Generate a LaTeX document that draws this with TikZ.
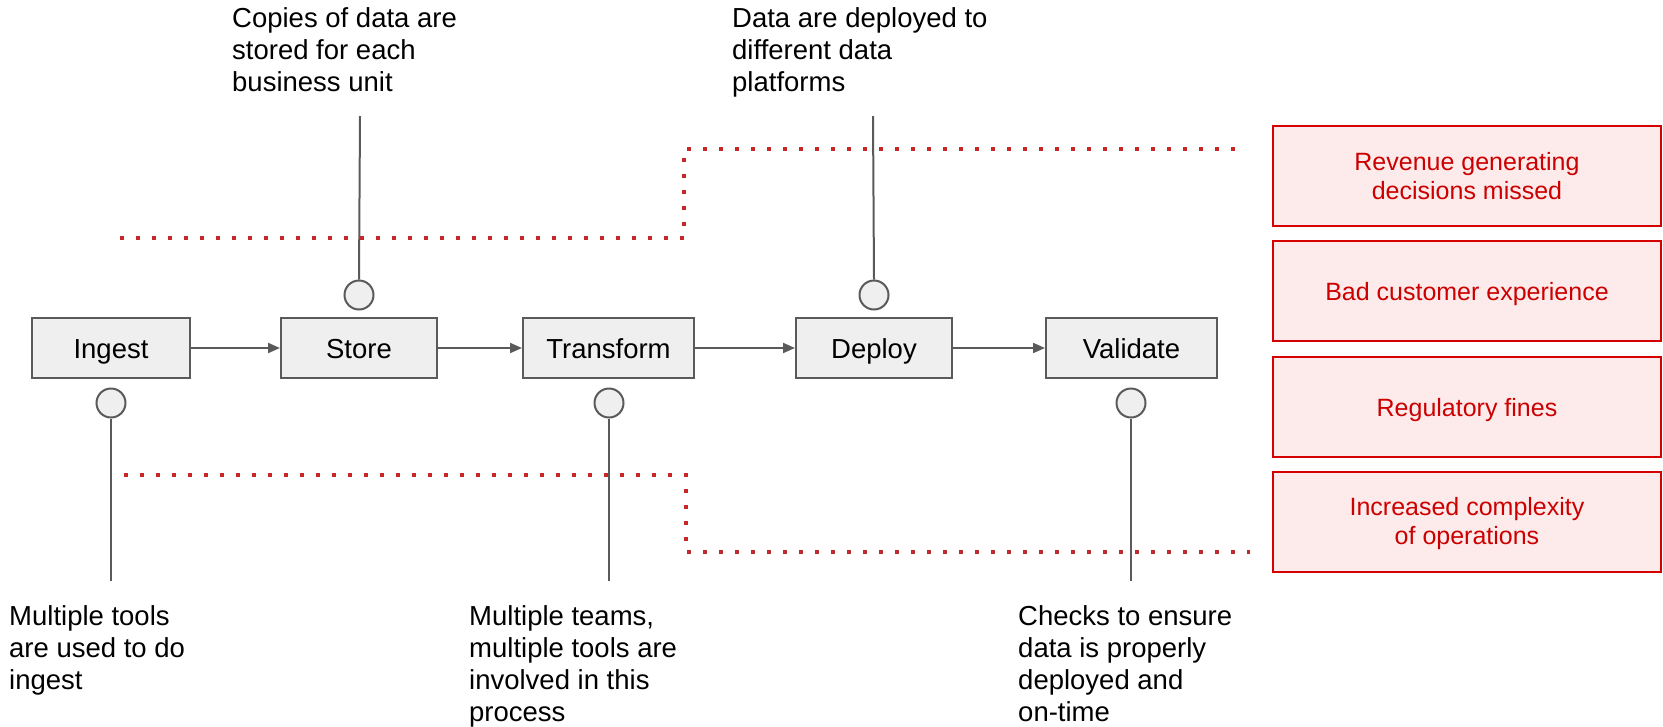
\documentclass[tikz,border=0pt]{standalone}
\usepackage{fontspec}
\setmainfont{Liberation Sans}
\usetikzlibrary{arrows.meta}
\definecolor{lgray}{HTML}{EFEFEF}
\definecolor{dgray}{HTML}{5A5A5A}
\definecolor{dotred}{HTML}{C62828}
\definecolor{boxred}{HTML}{D50000}
\definecolor{pinkfill}{HTML}{FDEBEB}
\definecolor{txtred}{HTML}{CC0000}
\begin{document}
\begin{tikzpicture}[x=1pt,y=-1pt,
  stage/.style={draw=dgray, line width=2pt, fill=lgray, minimum height=60pt, inner sep=0pt, text height=20pt, text depth=0pt, font=\fontsize{27.5}{32}\selectfont},
  dotc/.style={circle, draw=dgray, line width=2pt, fill=lgray, minimum size=29pt, inner sep=0pt},
  note/.style={anchor=north west, inner sep=0pt, align=left, font=\fontsize{27.5}{32}\selectfont},
  flow/.style={draw=dgray, line width=2pt, -{Triangle[length=12pt,width=10pt]}},
  lead/.style={draw=dgray, line width=2pt},
  dotline/.style={draw=dotred, line width=4pt, dash pattern=on 4pt off 12pt},
  impact/.style={draw=boxred, line width=2.5pt, fill=pinkfill, text=txtred, minimum width=388pt, minimum height=100pt, inner sep=0pt, align=center, font=\fontsize{25}{29}\selectfont},
  oneline/.style={text height=18pt, text depth=0pt}
]
\useasboundingbox (0,0) rectangle (1663,726);

% stages
\node[stage, minimum width=158pt] (ingest) at (111,348) {Ingest};
\node[stage, minimum width=156pt] (store) at (359,348) {Store};
\node[stage, minimum width=171pt] (transform) at (608.5,348) {Transform};
\node[stage, minimum width=156pt] (deploy) at (874,348) {Deploy};
\node[stage, minimum width=171pt] (validate) at (1131.5,348) {Validate};

\draw[flow] (ingest) -- (store);
\draw[flow] (store) -- (transform);
\draw[flow] (transform) -- (deploy);
\draw[flow] (deploy) -- (validate);

% circles
\node[dotc] (cstore) at (359,295) {};
\node[dotc] (cdeploy) at (874,295) {};
\node[dotc] (cingest) at (111,403) {};
\node[dotc] (ctransform) at (609,403) {};
\node[dotc] (cvalidate) at (1131,403) {};

% notes
\node[note] (nstore) at (232,7) {Copies of data are\\stored for each\\business unit};
\node[note] (ndeploy) at (732,7) {Data are deployed to\\different data\\platforms};
\node[note] (ningest) at (9,605) {Multiple tools\\are used to do\\ingest};
\node[note] (ntransform) at (469,605) {Multiple teams,\\multiple tools are\\involved in this\\process};
\node[note] (nvalidate) at (1018,605) {Checks to ensure\\data is properly\\deployed and\\on-time};

\coordinate (tstore) at (360,116);
\coordinate (tdeploy) at (873,116);
\coordinate (bingest) at (111,581);
\coordinate (btransform) at (609,581);
\coordinate (bvalidate) at (1131,581);
\draw[lead] (tstore) -- (cstore.north);
\draw[lead] (tdeploy) -- (cdeploy.north);
\draw[lead] (cingest.south) -- (bingest);
\draw[lead] (ctransform.south) -- (btransform);
\draw[lead] (cvalidate.south) -- (bvalidate);

% dotted boundaries
\coordinate (ta) at (120,238);
\coordinate (tb) at (684,238);
\coordinate (tc) at (684,149);
\coordinate (td) at (1236,149);
\draw[dotline] (ta) -- (tb) -- (tc) -- (td);
\coordinate (ba) at (124,475);
\coordinate (bb) at (686,475);
\coordinate (bc) at (686,552);
\coordinate (bd) at (1250,552);
\draw[dotline] (ba) -- (bb) -- (bc) -- (bd);

% impacts
\node[impact] (i1) at (1467,176) {Revenue generating\\decisions missed};
\node[impact, oneline] (i2) at (1467,291) {Bad customer experience};
\node[impact, oneline] (i3) at (1467,407) {Regulatory fines};
\node[impact] (i4) at (1467,522) {\rule{0pt}{21pt}Increased complexity\\of operations};
\end{tikzpicture}
\end{document}
